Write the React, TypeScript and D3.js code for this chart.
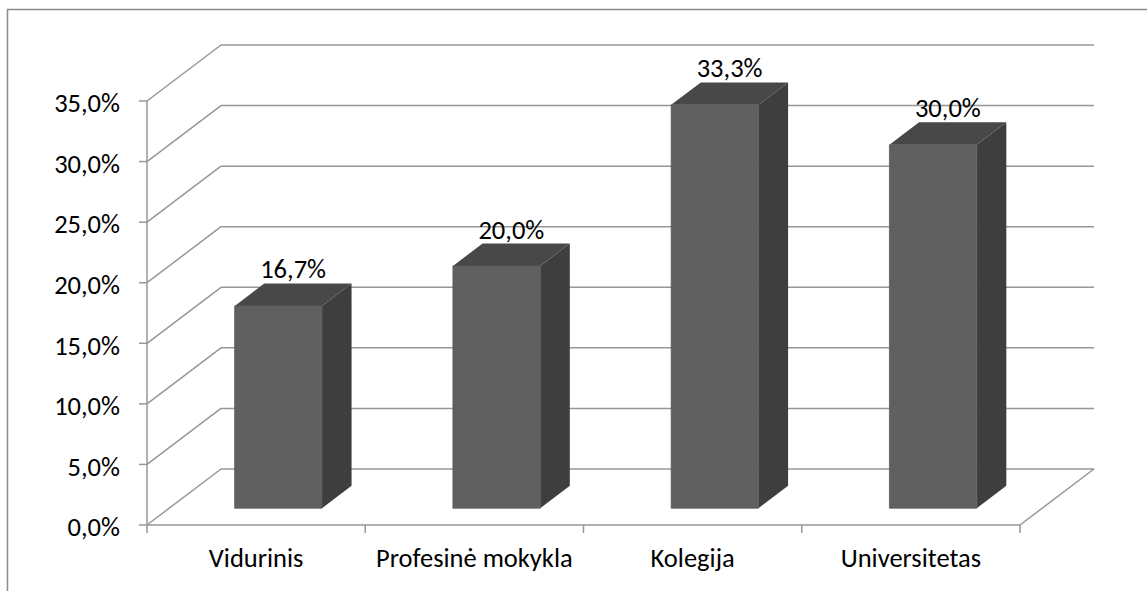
import React from 'react';
import * as d3 from 'd3';

const categories = ['Vidurinis', 'Profesinė mokykla', 'Kolegija', 'Universitetas'];
const values = [16.7, 20.0, 33.3, 30.0];
const yTicks = [0, 5, 10, 15, 20, 25, 30, 35];

const W = 1147;
const H = 591;
const FONT = 'Carlito, Calibri, Lato, sans-serif';
const FS = 26.5;

// 3D depth offset (full depth of the floor)
const DX = 74;
const DY = -56;
const D_FRONT = 0.3;
const D_BACK = 0.7;

const App = () => {
  const x = d3.scaleBand<string>().domain(categories).range([147, 1020]).paddingInner(0).paddingOuter(0);
  const y = d3.scaleLinear().domain([0, 35]).range([525, 101]);
  const fmt = (v: number) => d3.format('.1f')(v).replace('.', ',') + '%';

  const p = (px: number, py: number, d: number) => [px + d * DX, py + d * DY];
  const pts = (arr: number[][]) => arr.map((a) => a.join(',')).join(' ');

  const bw = x.bandwidth() * 0.4;
  const grid = '#979797';

  return (
    <svg width={W} height={H} style={{ position: 'absolute', left: 0, top: 0, background: '#fff' }}>
      {/* chart border (left & top visible) */}
      <path d={`M7.5,${H} L7.5,9.5 L${W},9.5`} fill="none" stroke="#8c8c8c" strokeWidth={1.5} />

      {/* back wall gridlines + side wall diagonals */}
      {yTicks.map((t) => {
        const [bx, by] = p(147, y(t), 1);
        const [ex] = p(1020, y(t), 1);
        return (
          <g key={t}>
            <line x1={147} y1={y(t)} x2={bx} y2={by} stroke={grid} strokeWidth={1.5} />
            <line x1={bx} y1={by} x2={ex} y2={by} stroke={grid} strokeWidth={1.5} />
          </g>
        );
      })}

      {/* floor right edge */}
      {(() => {
        const [bx, by] = p(1020, y(0), 1);
        return <line x1={1020} y1={y(0)} x2={bx} y2={by} stroke={grid} strokeWidth={1.5} />;
      })()}

      {/* y axis */}
      <line x1={147} y1={y(35)} x2={147} y2={y(0)} stroke={grid} strokeWidth={1.5} />
      {yTicks.map((t) => (
        <g key={'yt' + t}>
          <line x1={139} y1={y(t)} x2={147} y2={y(t)} stroke={grid} strokeWidth={1.5} />
          <text x={120} y={y(t) + 2} dy="0.35em" textAnchor="end" fontFamily={FONT} fontSize={FS} fill="#000">
            {fmt(t)}
          </text>
        </g>
      ))}

      {/* x axis */}
      <line x1={147} y1={y(0)} x2={1020} y2={y(0)} stroke={grid} strokeWidth={1.5} />
      {[...categories.map((c) => x(c) as number), 1020].map((v, i) => (
        <line key={'xt' + i} x1={v} y1={y(0)} x2={v} y2={y(0) + 8} stroke={grid} strokeWidth={1.5} />
      ))}
      {categories.map((c) => (
        <text
          key={'xl' + c}
          x={(x(c) as number) + x.bandwidth() / 2}
          y={567}
          textAnchor="middle"
          fontFamily={FONT}
          fontSize={FS}
          fill="#000"
        >
          {c}
        </text>
      ))}

      {/* bars */}
      {categories.map((c, i) => {
        const cx = (x(c) as number) + x.bandwidth() / 2;
        const x0 = cx - bw / 2;
        const x1 = cx + bw / 2;
        const yt = y(values[i]);
        const yb = y(0);
        const fTL = p(x0, yt, D_FRONT);
        const fTR = p(x1, yt, D_FRONT);
        const fBR = p(x1, yb, D_FRONT);
        const fBL = p(x0, yb, D_FRONT);
        const bTL = p(x0, yt, D_BACK);
        const bTR = p(x1, yt, D_BACK);
        const bBR = p(x1, yb, D_BACK);
        const mid = p(cx, yt, (D_FRONT + D_BACK) / 2);
        return (
          <g key={'bar' + c}>
            <polygon points={pts([fTR, bTR, bBR, fBR])} fill="#3e3e3e" />
            <polygon points={pts([fTL, bTL, bTR, fTR])} fill="#484848" />
            <polygon points={pts([fTL, fTR, fBR, fBL])} fill="#606060" stroke="#5a5a5a" strokeWidth={0.8} />
            <text x={mid[0]} y={bTL[1] - 5} textAnchor="middle" fontFamily={FONT} fontSize={FS} fill="#000">
              {fmt(values[i])}
            </text>
          </g>
        );
      })}
    </svg>
  );
};

export default App;
